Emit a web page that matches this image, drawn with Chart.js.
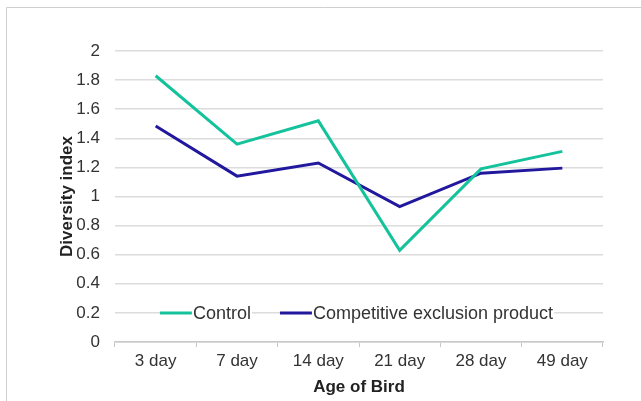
<!DOCTYPE html>
<html lang="en">
<head>
  <meta charset="UTF-8">
  <title>Diversity index by age of bird</title>
  <script src="https://cdn.jsdelivr.net/npm/chart.js"></script>
  <style>
    body { margin: 0; background: #fff; }
  </style>
</head>
<body>
  <canvas id="diversityChart" width="641" height="401"></canvas>

  <script>
    const ages = ['3 day', '7 day', '14 day', '21 day', '28 day', '49 day'];
    const control = [1.83, 1.36, 1.52, 0.63, 1.19, 1.31];
    const competitive = [1.485, 1.14, 1.23, 0.93, 1.16, 1.195];
    const legendAt = 0.2;  // legend sits on the 0.2 gridline

    const font = '"Liberation Sans", Arial, sans-serif';

    // light frame round the figure (top and left edges only, like the source)
    const frame = {
      id: 'frame',
      beforeDraw(chart) {
        const ctx = chart.ctx;
        ctx.save();
        ctx.strokeStyle = '#cfcfcf';
        ctx.lineWidth = 1;
        ctx.beginPath();
        ctx.moveTo(6.5, chart.height);
        ctx.lineTo(6.5, 7.5);
        ctx.lineTo(chart.width, 7.5);
        ctx.stroke();
        ctx.restore();
      }
    };

    // legend drawn inside the plot, centred on one gridline
    const insideLegend = {
      id: 'insideLegend',
      afterDatasetsDraw(chart) {
        const { ctx, chartArea } = chart;
        const yPos = chart.scales.y.getPixelForValue(legendAt);
        const sample = 32, gap = 30;
        ctx.save();
        ctx.font = '18px ' + font;
        ctx.textBaseline = 'middle';
        const widths = chart.data.datasets.map(d => sample + ctx.measureText(d.label).width);
        const total = widths.reduce((a, b) => a + b, 0) + gap * (widths.length - 1);
        let x = (chartArea.left + chartArea.right) / 2 - 3 - total / 2;
        chart.data.datasets.forEach((d, i) => {
          ctx.strokeStyle = d.borderColor;
          ctx.lineWidth = 3;
          ctx.beginPath();
          ctx.moveTo(x, yPos);
          ctx.lineTo(x + sample, yPos);
          ctx.stroke();
          const tw = widths[i] - sample;
          ctx.fillStyle = '#fff';
          ctx.fillRect(x + sample, yPos - 10, tw + 2, 20);
          ctx.fillStyle = '#333';
          ctx.fillText(d.label, x + sample + 1, yPos + 1);
          x += widths[i] + gap;
        });
        ctx.restore();
      }
    };

    const ctx = document.getElementById('diversityChart').getContext('2d');

    new Chart(ctx, {
      type: 'line',
      data: {
        labels: ages,
        datasets: [
          {
            label: 'Control',
            data: control,
            borderColor: '#14c29b',
            borderWidth: 3,
            pointRadius: 0,
            tension: 0,
            fill: false
          },
          {
            label: 'Competitive exclusion product',
            data: competitive,
            borderColor: '#22189e',
            borderWidth: 3,
            pointRadius: 0,
            tension: 0,
            fill: false
          }
        ]
      },
      options: {
        responsive: false,
        animation: false,
        layout: {
          padding: { top: 51, left: 50, right: 38, bottom: 0 }
        },
        plugins: {
          legend: { display: false },
          tooltip: { enabled: false }
        },
        scales: {
          x: {
            offset: true,
            grid: {
              offset: true,
              drawOnChartArea: false,
              drawTicks: true,
              tickLength: 5,
              color: '#c8c8c8'
            },
            border: { color: '#c8c8c8', width: 1.5 },
            ticks: {
              color: '#333',
              padding: 4,
              maxRotation: 0,
              font: { family: font, size: 17 }
            },
            title: {
              display: true,
              text: 'Age of Bird',
              color: '#222',
              padding: { top: 4, bottom: 3 },
              font: { family: font, size: 17, weight: 'bold' }
            },
            afterFit(scale) { scale.height = 59; }
          },
          y: {
            min: 0,
            max: 2,
            ticks: {
              stepSize: 0.2,
              color: '#333',
              padding: 15,
              font: { family: font, size: 17 },
              callback: v => Math.round(v * 10) / 10
            },
            grid: {
              color: '#dcdcdc',
              lineWidth: 1.5,
              drawTicks: false
            },
            border: { display: false },
            title: {
              display: true,
              text: 'Diversity index',
              color: '#222',
              padding: { top: 7, bottom: 0 },
              font: { family: font, size: 17, weight: 'bold' }
            },
            afterFit(scale) { scale.width = 65; }
          }
        }
      },
      plugins: [frame, insideLegend]
    });
  </script>
</body>
</html>
